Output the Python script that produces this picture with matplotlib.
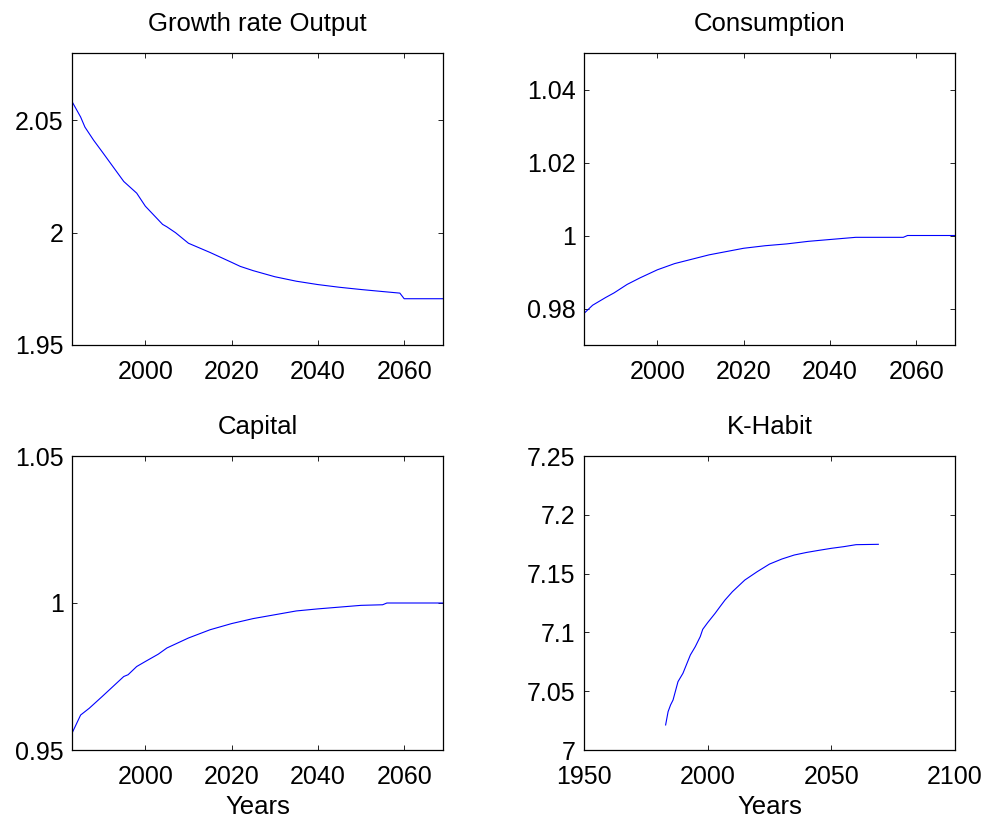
import matplotlib
matplotlib.use('Agg')
import matplotlib.pyplot as plt
from matplotlib.ticker import FuncFormatter

# ==========================================
# DATA
# ==========================================
years_output = [1983, 1985, 1986, 1988, 1990, 1995, 1998, 2000, 2004, 2005, 2007,
                2010, 2015, 2020, 2022, 2025, 2030, 2035, 2040, 2045, 2050, 2055,
                2059, 2060, 2069]
output_growth = [2.0584, 2.0515, 2.0470, 2.0412, 2.0360, 2.0228, 2.0176, 2.0118,
                 2.0037, 2.0026, 2.0000, 1.9953, 1.9912, 1.9868, 1.9850, 1.9831,
                 1.9804, 1.9784, 1.9769, 1.9757, 1.9747, 1.9738, 1.9731, 1.9706,
                 1.9706]

years_cons = [1983, 1985, 1988, 1990, 1993, 1996, 2000, 2004, 2008, 2012, 2016,
              2020, 2025, 2030, 2035, 2040, 2046, 2057, 2058, 2069]
consumption = [0.97865, 0.9809, 0.9830, 0.9843, 0.9866, 0.9884, 0.9906, 0.9923,
               0.9935, 0.9947, 0.9956, 0.9965, 0.9972, 0.9977, 0.9984, 0.9989,
               0.9995, 0.9995, 1.0000, 1.0000]

years_cap = [1983, 1985, 1987, 1990, 1995, 1996, 1998, 2000, 2003, 2005, 2010,
             2015, 2020, 2025, 2030, 2035, 2040, 2045, 2050, 2055, 2056, 2069]
capital = [0.9557, 0.9619, 0.9642, 0.9682, 0.9750, 0.9756, 0.9784, 0.9801, 0.9826,
           0.9847, 0.9881, 0.9909, 0.9930, 0.9947, 0.9960, 0.9973, 0.9980, 0.9986,
           0.9992, 0.9994, 1.0000, 1.0000]

years_habit = [1983, 1984, 1985, 1986, 1988, 1990, 1993, 1995, 1997, 1998, 2000,
               2003, 2005, 2007, 2010, 2015, 2020, 2025, 2030, 2035, 2040, 2045,
               2050, 2055, 2060, 2069]
k_habit = [7.0213, 7.0326, 7.0383, 7.0425, 7.0581, 7.0652, 7.0808, 7.0879, 7.0964,
           7.1026, 7.1083, 7.1162, 7.1219, 7.1275, 7.1346, 7.1445, 7.1516, 7.1581,
           7.1624, 7.1658, 7.1680, 7.1698, 7.1715, 7.1729, 7.1746, 7.1749]

# ==========================================
# FIGURE
# ==========================================
plt.rcParams['font.family'] = ['Liberation Sans', 'DejaVu Sans']
plt.rcParams['font.size'] = 18

fig = plt.figure(figsize=(9.9, 8.27), dpi=100)

W, H = 990, 827
def caja(x0, y0, x1, y1):
    return [x0 / W, 1 - y1 / H, (x1 - x0) / W, (y1 - y0) / H]

ax1 = fig.add_axes(caja(72, 53, 443, 345))
ax2 = fig.add_axes(caja(584, 53, 955, 345))
ax3 = fig.add_axes(caja(72, 456, 443, 750))
ax4 = fig.add_axes(caja(584, 456, 955, 750))

fmt = FuncFormatter(lambda v, p: '%g' % round(v, 6))

def estilo(ax, titulo):
    ax.set_title(titulo, fontsize=18.5, pad=16)
    ax.tick_params(direction='in', length=3.5, width=0.6, top=True, right=True,
                   labelsize=18, colors='black')
    ax.tick_params(axis='x', pad=11)
    ax.tick_params(axis='y', pad=6)
    for s in ax.spines.values():
        s.set_linewidth(0.9)
        s.set_color('black')
    ax.yaxis.set_major_formatter(fmt)

ax1.plot(years_output, output_growth, color='blue', linewidth=0.8)
ax1.set_xlim(1983, 2069)
ax1.set_ylim(1.95, 2.08)
ax1.set_xticks([2000, 2020, 2040, 2060])
ax1.set_yticks([1.95, 2.0, 2.05])
estilo(ax1, 'Growth rate Output')

ax2.plot(years_cons, consumption, color='blue', linewidth=0.8)
ax2.set_xlim(1983, 2069)
ax2.set_ylim(0.97, 1.05)
ax2.set_xticks([2000, 2020, 2040, 2060])
ax2.set_yticks([0.98, 1.0, 1.02, 1.04])
estilo(ax2, 'Consumption')

ax3.plot(years_cap, capital, color='blue', linewidth=0.8)
ax3.set_xlim(1983, 2069)
ax3.set_ylim(0.95, 1.05)
ax3.set_xticks([2000, 2020, 2040, 2060])
ax3.set_yticks([0.95, 1.0, 1.05])
ax3.set_xlabel('Years', fontsize=18.5, labelpad=4)
estilo(ax3, 'Capital')

ax4.plot(years_habit, k_habit, color='blue', linewidth=0.8)
ax4.set_xlim(1950, 2100)
ax4.set_ylim(7.0, 7.25)
ax4.set_xticks([1950, 2000, 2050, 2100])
ax4.set_yticks([7.0, 7.05, 7.1, 7.15, 7.2, 7.25])
ax4.set_xlabel('Years', fontsize=18.5, labelpad=4)
estilo(ax4, 'K-Habit')

fig.savefig('out.png', dpi=100)
